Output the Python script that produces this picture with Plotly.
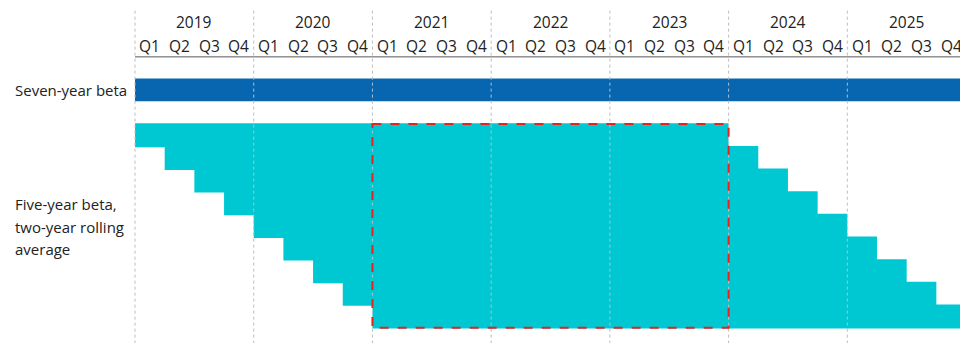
import plotly.graph_objects as go

# Calendar shown on the timeline
years = [2019, 2020, 2021, 2022, 2023, 2024, 2025]
quarter_labels = ["Q1", "Q2", "Q3", "Q4"]

# Estimation windows (start quarter, length in quarters)
seven_year_start = "2019Q1"
seven_year_length = 28
five_year_starts = ["2019Q1", "2019Q2", "2019Q3", "2019Q4",
                    "2020Q1", "2020Q2", "2020Q3", "2020Q4", "2021Q1"]
five_year_length = 20

# Period covered by every five-year window
highlight_start = "2021Q1"
highlight_end = "2023Q4"

row_labels = ["Seven-year beta", "Five-year beta,", "two-year rolling", "average"]

DARK_BLUE = "#0866B0"
CYAN = "#00C8D3"
RED = "#E8231F"
GRID = "#BDBDBD"
TEXT = "#222222"
FONT = "Open Sans"
FS = 15.5


def qidx(label):
    y, q = label.split("Q")
    return (int(y) - years[0]) * 4 + int(q) - 1


fig = go.Figure()

# Seven-year window bar (row -2)
fig.add_trace(go.Bar(
    orientation="h", y=[-2], x=[seven_year_length], base=[qidx(seven_year_start)],
    width=1, marker=dict(color=DARK_BLUE, line=dict(width=0)), hoverinfo="skip",
))

# Five-year windows, one per row (slight overlap hides seams between rows)
fig.add_trace(go.Bar(
    orientation="h",
    y=list(range(len(five_year_starts))),
    x=[five_year_length] * len(five_year_starts),
    base=[qidx(s) for s in five_year_starts],
    width=1.06, marker=dict(color=CYAN, line=dict(width=0)), hoverinfo="skip",
))

x_left = -135 / 29.68
x_right = x_left + 960 / 29.68
y_top = -5.97
y_bottom = 9.17

shapes = []
# Year separators
for i in range(len(years) + 1):
    shapes.append(dict(type="line", xref="x", yref="y", x0=i * 4, x1=i * 4,
                       y0=-5.5, y1=y_bottom, layer="above",
                       line=dict(color=GRID, width=1, dash="dot")))
# Header rule under the quarter labels
shapes.append(dict(type="line", xref="x", yref="y", x0=0, x1=x_right,
                   y0=-3.46, y1=-3.46, layer="above",
                   line=dict(color="#595959", width=1)))
# Common-coverage box
shapes.append(dict(type="rect", xref="x", yref="y",
                   x0=qidx(highlight_start), x1=qidx(highlight_end) + 1,
                   y0=-0.5, y1=len(five_year_starts) - 0.5, layer="above",
                   line=dict(color=RED, width=2, dash="dash"),
                   fillcolor="rgba(0,0,0,0)"))

annotations = []
for i, yr in enumerate(years):
    annotations.append(dict(x=i * 4 + 2, y=-5.0, xref="x", yref="y", text=str(yr),
                            showarrow=False, font=dict(family=FONT, size=FS, color=TEXT)))
    for j, ql in enumerate(quarter_labels):
        annotations.append(dict(x=i * 4 + j + 0.5, y=-3.95, xref="x", yref="y", text=ql,
                                showarrow=False, font=dict(family=FONT, size=FS, color=TEXT)))

label_rows = [-2, 3.05, 4.03, 5.03]
for txt, r in zip(row_labels, label_rows):
    annotations.append(dict(x=13 / 960, y=r, xref="paper", yref="y", text=txt,
                            xanchor="left", showarrow=False,
                            font=dict(family=FONT, size=15, color=TEXT)))

fig.update_layout(
    width=960, height=343,
    margin=dict(l=0, r=0, t=0, b=0),
    paper_bgcolor="white", plot_bgcolor="white",
    showlegend=False, barmode="overlay",
    xaxis=dict(range=[x_left, x_right], visible=False, fixedrange=True),
    yaxis=dict(range=[y_bottom, y_top], visible=False, fixedrange=True),
    shapes=shapes, annotations=annotations,
)

fig.write_html("out.html")
